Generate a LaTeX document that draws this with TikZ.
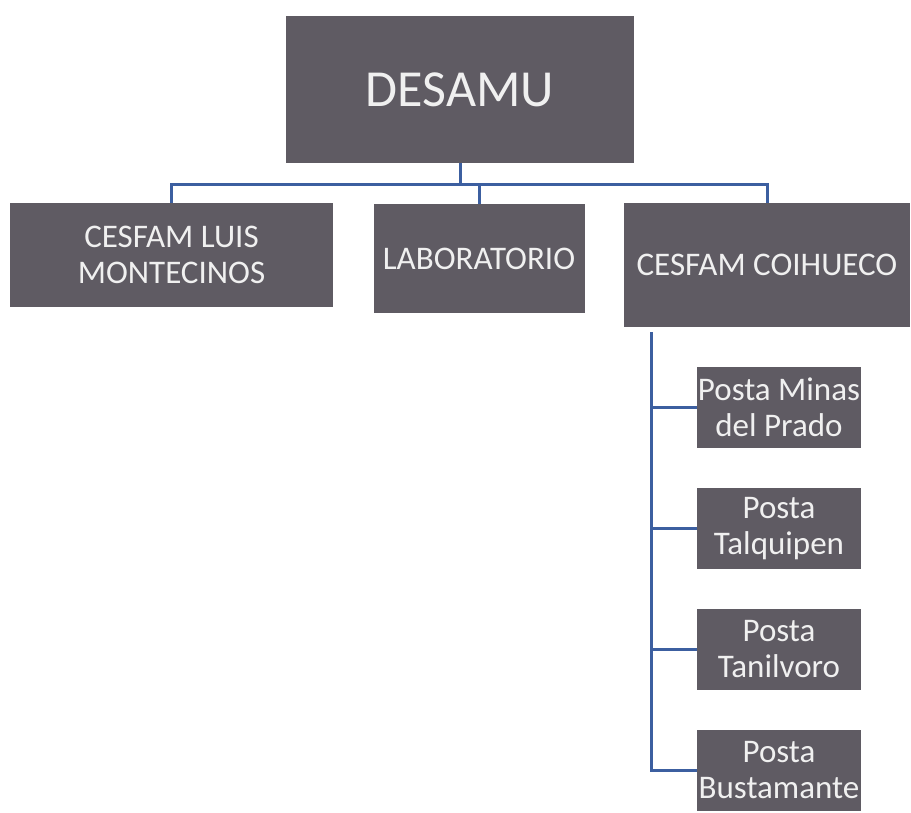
\documentclass[tikz,border=0pt]{standalone}
\usepackage{fontspec}
\setmainfont{Carlito}
\definecolor{boxgray}{RGB}{95,91,99}
\definecolor{lineblue}{RGB}{60,95,160}
\begin{document}
\begin{tikzpicture}[x=1pt,y=-1pt,
  unit/.style={fill=boxgray,text=white!94!black,inner sep=0pt,align=center,font=\fontsize{33}{36}\selectfont},
  link/.style={draw=lineblue,line width=3pt}]
\useasboundingbox (0,0) rectangle (911,812);
\node [unit,minimum width=348,minimum height=147,font=\fontsize{52}{56}\selectfont] (desamu) at (460,89.5) {DESAMU};
\node [unit,minimum width=323,minimum height=104] (luis) at (171.5,255) {CESFAM LUIS\\MONTECINOS};
\node [unit,minimum width=211,minimum height=109] (lab) at (479,258.5) {LABORATORIO};
\node [unit,minimum width=286,minimum height=124] (coihueco) at (767,265) {CESFAM COIHUECO};
\node [unit,minimum width=164,minimum height=81] (minas) at (779,407.5) {Posta Minas\\del Prado};
\node [unit,minimum width=164,minimum height=81] (talquipen) at (779,528.5) {Posta\\Talquipen};
\node [unit,minimum width=164,minimum height=81] (tanilvoro) at (779,649.5) {Posta\\Tanilvoro};
\node [unit,minimum width=164,minimum height=81] (bustamante) at (779,770.5) {Posta\\Bustamante};
\coordinate (bus) at (460,184);
\coordinate (spine) at (651,332);
\draw [link] (desamu.south) -- (bus);
\draw [link] (luis.north) |- (bus) -| (coihueco.north);
\draw [link] (lab.north) -- (lab.north |- bus);
\draw [link] (spine) |- (bustamante.west);
\foreach \p in {minas,talquipen,tanilvoro}
  \draw [link] (spine |- \p.west) -- (\p.west);
\end{tikzpicture}
\end{document}
